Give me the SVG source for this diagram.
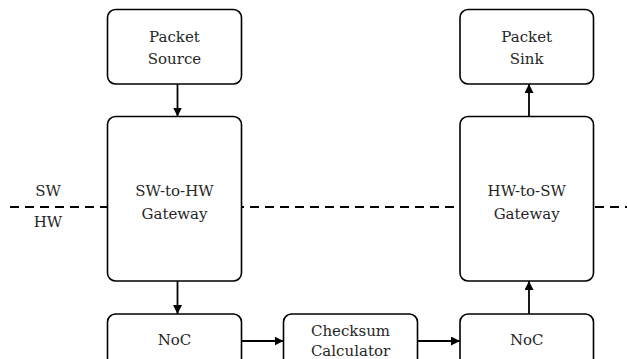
<svg xmlns="http://www.w3.org/2000/svg" width="627" height="359" viewBox="0 0 627 359">
  <defs>
    <marker id="arrow" viewBox="0 0 10 10" refX="10" refY="5" markerWidth="9" markerHeight="9" markerUnits="userSpaceOnUse" orient="auto">
      <path d="M0,0 L10,5 L0,10 z" fill="#000"/>
    </marker>
  </defs>
  <style>
    .box { fill: #fff; stroke: #000; stroke-width: 1.6; }
    .lbl { font-family: "DejaVu Serif", "Liberation Serif", serif; font-size: 15px; fill: #262626; text-anchor: middle; }
    .edge { fill: none; stroke: #000; stroke-width: 1.8; marker-end: url(#arrow); }
    .divider { fill: none; stroke: #000; stroke-width: 1.8; stroke-dasharray: 9 6; }
  </style>

  <!-- SW / HW boundary -->
  <g id="boundary">
    <line class="divider" x1="10" y1="207" x2="627" y2="207"/>
    <text class="lbl" x="48" y="196">SW</text>
    <text class="lbl" x="48" y="227">HW</text>
  </g>

  <g id="packet-source">
    <rect class="box" x="107.5" y="9.5" width="134" height="74.5" rx="8"/>
    <text class="lbl" x="174.5" y="42">Packet</text>
    <text class="lbl" x="174.5" y="64">Source</text>
  </g>

  <g id="sw-to-hw">
    <rect class="box" x="107.5" y="116.5" width="134" height="164.5" rx="8"/>
    <text class="lbl" x="174.5" y="196">SW-to-HW</text>
    <text class="lbl" x="174.5" y="219">Gateway</text>
  </g>

  <g id="noc-left">
    <rect class="box" x="107.5" y="314" width="134" height="60" rx="8"/>
    <text class="lbl" x="174.5" y="345">NoC</text>
  </g>

  <g id="checksum">
    <rect class="box" x="283.5" y="314" width="134" height="60" rx="8"/>
    <text class="lbl" x="350.5" y="336">Checksum</text>
    <text class="lbl" x="350.5" y="355.5">Calculator</text>
  </g>

  <g id="noc-right">
    <rect class="box" x="460" y="314" width="133.5" height="60" rx="8"/>
    <text class="lbl" x="526.7" y="345">NoC</text>
  </g>

  <g id="hw-to-sw">
    <rect class="box" x="460" y="116.5" width="133.5" height="164.5" rx="8"/>
    <text class="lbl" x="526.7" y="196">HW-to-SW</text>
    <text class="lbl" x="526.7" y="219">Gateway</text>
  </g>

  <g id="packet-sink">
    <rect class="box" x="460" y="9.5" width="133.5" height="74.5" rx="8"/>
    <text class="lbl" x="526.7" y="42">Packet</text>
    <text class="lbl" x="526.7" y="64">Sink</text>
  </g>

  <g id="connectors">
    <line class="edge" x1="177.5" y1="84" x2="177.5" y2="116.5"/>
    <line class="edge" x1="177.5" y1="281" x2="177.5" y2="314"/>
    <line class="edge" x1="241.5" y1="341" x2="283.5" y2="341"/>
    <line class="edge" x1="417.5" y1="341" x2="460" y2="341"/>
    <line class="edge" x1="529" y1="314" x2="529" y2="281"/>
    <line class="edge" x1="529" y1="116.5" x2="529" y2="84"/>
  </g>
</svg>
